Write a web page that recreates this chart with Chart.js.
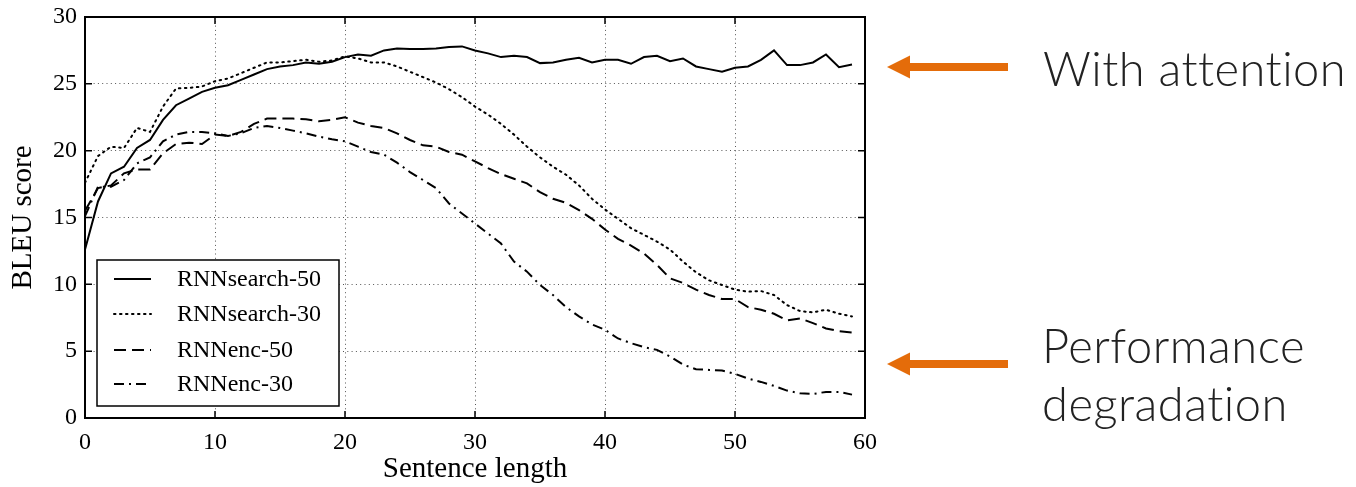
<!DOCTYPE html>
<html>
<head>
<meta charset="utf-8">
<script src="https://cdn.jsdelivr.net/npm/chart.js@4.4.0/dist/chart.umd.min.js"></script>
<style>
  html, body { margin: 0; padding: 0; background: #fff; }
  #wrap { width: 1356px; height: 487px; }
</style>
</head>
<body>
<div id="wrap"><canvas id="chartBleu" width="1356" height="487"></canvas></div>
<script>
// sentence length (x axis)
var sentenceLength = [0,1,2,3,4,5,6,7,8,9,10,11,12,13,14,15,16,17,18,19,
  20,21,22,23,24,25,26,27,28,29,30,31,32,33,34,35,36,37,38,39,
  40,41,42,43,44,45,46,47,48,49,50,51,52,53,54,55,56,57,58,59];

var rnnSearch50 = [12.6,16.2,18.3,18.8,20.2,20.8,22.3,23.4,23.9,24.4,24.7,24.9,25.3,25.7,26.1,26.3,26.4,26.6,26.5,26.65,
  27.0,27.2,27.1,27.5,27.65,27.6,27.6,27.65,27.75,27.8,27.5,27.28,27.0,27.1,27.0,26.55,26.6,26.8,26.95,26.6,
  26.8,26.8,26.5,27.0,27.1,26.7,26.9,26.3,26.1,25.9,26.2,26.3,26.8,27.5,26.4,26.4,26.6,27.2,26.25,26.45];

var rnnSearch30 = [17.6,19.6,20.3,20.2,21.7,21.4,23.3,24.65,24.7,24.8,25.2,25.4,25.8,26.2,26.6,26.6,26.7,26.8,26.65,26.75,
  27.05,26.9,26.6,26.6,26.3,25.9,25.5,25.1,24.6,24.0,23.3,22.7,22.0,21.2,20.3,19.5,18.8,18.2,17.4,16.4,
  15.6,14.9,14.2,13.7,13.2,12.6,11.7,10.9,10.3,9.95,9.6,9.45,9.5,9.2,8.45,8.0,7.9,8.1,7.8,7.6];

var rnnEnc50 = [15.5,17.2,17.4,18.3,18.6,18.6,19.8,20.5,20.6,20.5,21.2,21.1,21.4,22.0,22.4,22.4,22.4,22.35,22.2,22.3,
  22.5,22.1,21.85,21.7,21.3,20.8,20.4,20.3,19.9,19.7,19.2,18.7,18.25,17.9,17.55,16.9,16.4,16.1,15.55,14.9,
  14.1,13.4,12.9,12.3,11.45,10.45,10.1,9.6,9.2,8.9,8.9,8.3,8.1,7.8,7.3,7.45,7.1,6.7,6.5,6.4];

var rnnEnc30 = [15.1,17.3,17.3,17.8,19.05,19.5,20.7,21.2,21.4,21.4,21.3,21.1,21.3,21.7,21.85,21.7,21.5,21.3,21.05,20.85,
  20.7,20.3,19.9,19.7,19.1,18.4,17.8,17.2,16.05,15.3,14.55,13.8,13.05,11.7,10.95,9.95,9.2,8.3,7.6,7.0,
  6.6,5.95,5.6,5.3,5.1,4.6,4.0,3.65,3.6,3.55,3.3,2.95,2.7,2.4,2.05,1.85,1.8,1.95,1.95,1.75];

var seriesNames = ['RNNsearch-50', 'RNNsearch-30', 'RNNenc-50', 'RNNenc-30'];
var seriesDash = [[], [1.5, 4.5], [12, 6], [10, 5, 2, 5]];
var yTicks = [0, 5, 10, 15, 20, 25, 30];
var xTicks = [0, 10, 20, 30, 40, 50, 60];

var serif = '"Liberation Serif", "DejaVu Serif", serif';
var orange = '#E46C0A';

function points(values) {
  return values.map(function(v, i) { return {x: sentenceLength[i], y: v}; });
}

var allSeries = [rnnSearch50, rnnSearch30, rnnEnc50, rnnEnc30];
var datasets = allSeries.map(function(vals, i) {
  return {
    label: seriesNames[i],
    data: points(vals),
    borderColor: '#000',
    borderWidth: 2,
    borderDash: seriesDash[i],
    borderCapStyle: i == 1 ? 'round' : 'butt',
    pointRadius: 0,
    tension: 0,
    fill: false
  };
});

// frame, inward ticks, legend box and the side notes
var extras = {
  id: 'extras',
  afterDatasetsDraw: function(chart) {
    var ctx = chart.ctx;
    var a = chart.chartArea;
    var xs = chart.scales.x, ys = chart.scales.y;
    ctx.save();
    ctx.strokeStyle = '#000';
    ctx.lineWidth = 2;
    ctx.setLineDash([]);
    ctx.strokeRect(a.left, a.top, a.right - a.left, a.bottom - a.top);

    ctx.lineWidth = 1.5;
    xTicks.forEach(function(t) {
      var px = xs.getPixelForValue(t);
      ctx.beginPath();
      ctx.moveTo(px, a.bottom); ctx.lineTo(px, a.bottom - 7);
      ctx.moveTo(px, a.top); ctx.lineTo(px, a.top + 7);
      ctx.stroke();
    });
    yTicks.forEach(function(t) {
      var py = ys.getPixelForValue(t);
      ctx.beginPath();
      ctx.moveTo(a.left, py); ctx.lineTo(a.left + 7, py);
      ctx.moveTo(a.right, py); ctx.lineTo(a.right - 7, py);
      ctx.stroke();
    });

    // legend
    var lx = a.left + 12, ly = 260, lw = 242, lh = 146;
    ctx.fillStyle = '#fff';
    ctx.fillRect(lx, ly, lw, lh);
    ctx.lineWidth = 1.5;
    ctx.strokeRect(lx, ly, lw, lh);
    ctx.font = '24px ' + serif;
    ctx.textBaseline = 'middle';
    ctx.fillStyle = '#000';
    var rows = [279, 314, 350, 384];
    chart.data.datasets.forEach(function(ds, i) {
      ctx.beginPath();
      ctx.lineWidth = 2;
      ctx.lineCap = ds.borderCapStyle;
      ctx.setLineDash(ds.borderDash);
      ctx.moveTo(lx + 17, rows[i]);
      ctx.lineTo(lx + 54, rows[i]);
      ctx.stroke();
      ctx.setLineDash([]);
      ctx.fillText(ds.label, lx + 80, rows[i] + 1);
    });

    // orange arrows pointing at the curves
    function arrow(y) {
      ctx.fillStyle = orange;
      ctx.fillRect(905, y - 4, 103, 8);
      ctx.beginPath();
      ctx.moveTo(887, y);
      ctx.lineTo(910, y - 11.5);
      ctx.lineTo(910, y + 11.5);
      ctx.closePath();
      ctx.fill();
    }
    arrow(67);
    arrow(364);

    ctx.fillStyle = '#222';
    ctx.textBaseline = 'alphabetic';
    ctx.font = '300 47px Lato, "Open Sans", sans-serif';
    ctx.letterSpacing = '0.5px';
    ctx.fillText('With attention', 1043, 86);
    ctx.fillText('Performance', 1042, 363);
    ctx.fillText('degradation', 1042, 421);
    ctx.restore();
  }
};

var config = {
  type: 'line',
  data: { datasets: datasets },
  options: {
    responsive: false,
    animation: false,
    layout: { padding: { top: 17, right: 491, left: 0, bottom: 0 } },
    plugins: { legend: { display: false }, tooltip: { enabled: false } },
    scales: {
      x: {
        type: 'linear',
        min: 0, max: 60,
        afterBuildTicks: function(scale) { scale.ticks = xTicks.map(function(v) { return {value: v}; }); },
        afterFit: function(scale) { scale.height = 69; scale.paddingLeft = 0; scale.paddingRight = 0; },
        border: { display: false, dash: [1, 3.3] },
        grid: { color: '#555', lineWidth: 1, drawTicks: false },
        ticks: { color: '#000', padding: 10, font: { family: serif, size: 24 }, maxRotation: 0 },
        title: { display: true, text: 'Sentence length', color: '#000', font: { family: serif, size: 29 }, padding: { top: 0, bottom: 0 } }
      },
      y: {
        min: 0, max: 30,
        afterBuildTicks: function(scale) { scale.ticks = yTicks.map(function(v) { return {value: v}; }); },
        afterFit: function(scale) { scale.width = 85; scale.paddingTop = 0; scale.paddingBottom = 0; },
        border: { display: false, dash: [1, 3.3] },
        grid: { color: '#555', lineWidth: 1, drawTicks: false },
        ticks: { color: '#000', padding: 8, font: { family: serif, size: 24 } },
        title: { display: true, text: 'BLEU score', color: '#000', font: { family: serif, size: 29 }, padding: { top: 6, bottom: 0 } }
      }
    }
  },
  plugins: [extras]
};

var ctxBleu = document.getElementById('chartBleu').getContext('2d');
window.bleuChart = new Chart(ctxBleu, config);
</script>
</body>
</html>
